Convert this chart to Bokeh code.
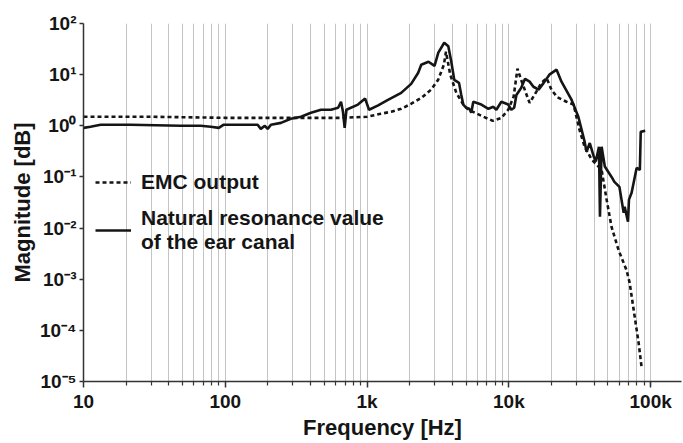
from bokeh.plotting import figure
from bokeh.models import FixedTicker, CustomJSTickFormatter, Legend, LegendItem
from bokeh.embed import file_html
from bokeh.resources import INLINE

# ---- data ----
emc_freq = [10, 30, 100, 250, 650, 1000, 1250, 1480, 1740, 2050, 2410, 2830, 3170, 3480,
            3600, 3860, 4260, 4770, 5180, 6400, 7700, 8850, 9900, 10800, 11500, 12200,
            14000, 15600, 17000, 18500, 20000, 22000, 25500, 28600, 31500, 34200, 38300,
            45100, 48900, 53000, 59400, 67600, 71100, 75900, 82300, 86300]
emc_mag = [1.50, 1.50, 1.43, 1.43, 1.43, 1.50, 1.72, 1.88, 2.15, 2.7, 3.5, 5.1, 7.9, 15.6,
           28, 10, 4.4, 2.6, 2.06, 1.57, 1.25, 1.43, 2.06, 3.7, 13.1, 7.9,
           2.8, 4.6, 7.0, 8.5, 5.0, 3.6, 2.95, 2.6, 0.83, 0.39, 0.22,
           0.137, 0.036, 0.0105, 0.0037, 0.0015, 0.00085, 0.00025, 5.6e-5, 1.9e-5]

nat_freq = [10, 11.2, 13.2, 21.5, 48.5, 67, 79, 90, 97.5, 169, 178, 190, 199, 210, 247, 290,
            342, 402, 473, 556, 625, 655, 676, 695, 715, 862, 969, 1032, 1197, 1404, 1740,
            2046, 2294, 2410, 2712, 2990, 3180, 3500, 3740, 3926, 4120, 4450, 4616, 4770,
            5010, 5260, 5430, 5610, 6396, 7170, 7770, 8160, 8850, 9900, 10400, 10900, 11300,
            12200, 13000, 14000, 14900, 16200, 17600, 19300, 21700, 23500, 27700, 30900,
            34200, 35300, 37200, 39700, 41000, 43200, 43900, 45100, 47500, 53000, 55500,
            60200, 64500, 65600, 69200, 70300, 73400, 79600, 83900, 85100, 91500]
nat_mag = [0.91, 0.96, 1.05, 1.05, 1.0, 1.0, 0.96, 0.91, 1.05, 1.05, 0.87, 1.0, 0.87, 1.05,
           1.14, 1.37, 1.5, 1.8, 2.06, 2.06, 2.25, 2.95, 1.88, 0.91, 2.06, 2.6, 3.4, 2.06,
           2.5, 3.2, 4.4, 6.6, 10.9, 15.6, 17.9, 14.8, 27, 42, 36, 17.9, 7.9, 6.9, 4.0, 2.6,
           2.25, 2.15, 1.8, 2.95, 2.6, 2.15, 2.35, 2.06, 2.95, 2.6, 2.06, 2.25, 4.0, 5.5,
           8.3, 7.3, 5.8, 5.1, 6.9, 10, 12.5, 7.3, 3.2, 1.5, 0.49, 0.31, 0.46, 0.25, 0.2,
           0.39, 0.0167, 0.39, 0.16, 0.1, 0.08, 0.064, 0.02, 0.026, 0.0133, 0.036, 0.049,
           0.15, 0.137, 0.76, 0.8]

x_major = [10, 100, 1000, 10000, 100000]
y_major = [1e-5, 1e-4, 1e-3, 1e-2, 1e-1, 1, 10, 100]
legend_labels = ["EMC output", "Natural resonance value\nof the ear canal"]

FONT = "Liberation Sans"
INK = "#151515"

p = figure(width=683, height=443, x_axis_type="log", y_axis_type="log",
           x_range=(10, 165000), y_range=(1e-5, 100),
           output_backend="svg", toolbar_location=None,
           min_border_left=83, min_border_right=2, min_border_top=23, min_border_bottom=62)
p.outline_line_color = None
p.background_fill_color = "white"
p.border_fill_color = "white"

x_minor = [m * d for d in x_major[:-1] for m in range(2, 10)] + [100000]
p.xaxis.ticker = FixedTicker(ticks=x_major, minor_ticks=x_minor)
p.yaxis.ticker = FixedTicker(ticks=y_major, minor_ticks=[])

p.xaxis.formatter = CustomJSTickFormatter(code="""
if (tick >= 1000) { return Math.round(tick / 1000) + 'k'; }
return String(Math.round(tick));
""")
p.yaxis.formatter = CustomJSTickFormatter(code="""
const sup = {'-': '\\u207b', '0': '\\u2070', '1': '\\u00b9', '2': '\\u00b2', '3': '\\u00b3',
             '4': '\\u2074', '5': '\\u2075', '6': '\\u2076', '7': '\\u2077', '8': '\\u2078', '9': '\\u2079'};
const e = String(Math.round(Math.log10(tick)));
return '10' + e.split('').map(c => sup[c]).join('');
""")

for ax in (p.xaxis[0], p.yaxis[0]):
    ax.axis_line_color = "#333333"
    ax.axis_line_width = 1.5
    ax.major_tick_line_color = "#333333"
    ax.major_tick_line_width = 1.5
    ax.minor_tick_line_color = "#333333"
    ax.minor_tick_line_width = 1.2
    ax.major_tick_in = 0
    ax.minor_tick_in = 0
    ax.major_label_text_font = FONT
    ax.major_label_text_font_style = "bold"
    ax.major_label_text_font_size = "19px"
    ax.major_label_text_color = INK
    ax.axis_label_text_font = FONT
    ax.axis_label_text_font_style = "bold"
    ax.axis_label_text_font_size = "22px"
    ax.axis_label_text_color = INK

p.xaxis.major_tick_out = 6
p.xaxis.minor_tick_out = 4
p.xaxis.major_label_standoff = 3
p.xaxis.axis_label_standoff = 0
p.yaxis.major_tick_out = 4
p.yaxis.minor_tick_out = 0
p.yaxis.major_label_standoff = 3
p.yaxis.axis_label_standoff = 2
p.xaxis.axis_label = "Frequency [Hz]"
p.yaxis.axis_label = "Magnitude [dB]"

p.xgrid.grid_line_color = "#c4c4c4"
p.xgrid.grid_line_width = 1
p.xgrid.minor_grid_line_color = "#c4c4c4"
p.xgrid.minor_grid_line_width = 1
p.ygrid.grid_line_color = None

r_emc = p.line(emc_freq, emc_mag, line_color=INK, line_width=2.6, line_dash="4 3")
r_nat = p.line(nat_freq, nat_mag, line_color=INK, line_width=2.6)

legend = Legend(items=[LegendItem(label=legend_labels[0], renderers=[r_emc]),
                       LegendItem(label=legend_labels[1], renderers=[r_nat])],
                location=(12, 127))
legend.label_text_font = FONT
legend.label_text_font_style = "bold"
legend.label_text_font_size = "21px"
legend.label_text_color = INK
legend.label_text_line_height = 1.4
legend.glyph_width = 36
legend.glyph_height = 20
legend.label_standoff = 10
legend.spacing = 12
legend.padding = 0
legend.margin = 0
legend.border_line_color = None
legend.background_fill_alpha = 0
p.add_layout(legend)

open("out.html", "w", encoding="utf-8").write(file_html(p, INLINE))
